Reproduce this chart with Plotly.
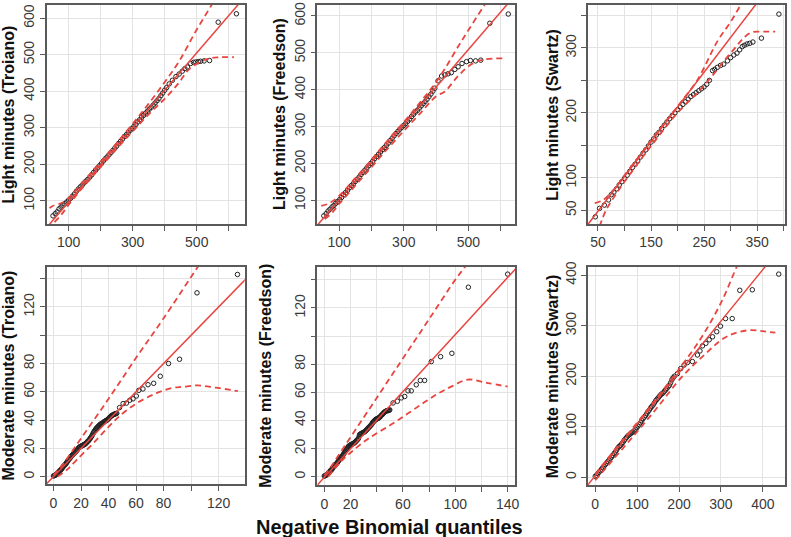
import plotly.graph_objects as go

W, H = 791, 537

# ---------------- data ----------------
# Panel 1: Light minutes (Troiano)
qx1 = [51, 58, 64, 70, 76, 82, 88, 94, 100, 106, 112, 118, 124, 130, 136, 142, 148, 154, 160, 166,
       172, 178, 184, 190, 196, 202, 208, 214, 220, 226, 232, 238, 244, 250, 256, 262, 268, 274, 280, 286,
       292, 298, 304, 310, 316, 322, 328, 334, 340, 346, 352, 358, 364, 370, 376, 382, 388, 394, 400,
       406, 414, 424, 435, 445, 455, 463, 471, 481, 490, 497, 505, 512, 523, 540, 567, 624]
sy1 = [59, 65, 70, 78, 83, 88, 92, 97, 102, 107, 113, 119, 126, 132, 138, 143, 149, 154, 159, 165,
       171, 178, 184, 190, 196, 202, 209, 215, 220, 226, 232, 238, 244, 250, 257, 263, 269, 276, 281, 287,
       293, 298, 304, 309, 316, 322, 329, 334, 340, 345, 351, 356, 362, 368, 374, 380, 388, 395, 403,
       410, 420, 430, 440, 447, 455, 462, 466, 476, 479, 480, 481, 482, 483, 484, 589, 612]
up1_x = [40, 50, 88, 150, 200, 250, 300, 350, 400, 445, 497, 549, 575]
up1_y = [80, 86, 99, 157, 207, 258, 311, 366, 425, 482, 564, 640, 680]
lo1_x = [56, 77, 97, 150, 200, 250, 300, 350, 404, 445, 476, 528, 569, 616]
lo1_y = [42, 62, 86, 143, 193, 243, 290, 337, 383, 424, 460, 487, 493, 493]
ref1 = (-5, 1.02)

# Panel 2: Light minutes (Freedson)
qx2 = [53, 60, 66, 72, 78, 84, 90, 96, 102, 108, 114, 120, 126, 132, 138, 144, 150, 156, 162, 168,
       174, 180, 186, 192, 198, 204, 210, 216, 222, 228, 234, 240, 246, 252, 258, 264, 270, 276, 282, 288,
       294, 300, 306, 312, 318, 324, 330, 336, 342, 348, 354, 360, 366, 372, 378, 384, 390, 396,
       406, 417, 427, 437, 447, 458, 468, 480, 494, 506, 522, 538, 566, 623]
sy2 = [58, 64, 71, 76, 82, 86, 92, 97, 102, 108, 115, 121, 127, 134, 140, 145, 151, 157, 163, 170,
       176, 182, 188, 194, 200, 206, 213, 219, 225, 231, 237, 243, 249, 255, 262, 268, 275, 281, 287, 293,
       298, 303, 308, 314, 320, 327, 333, 339, 344, 350, 356, 362, 368, 374, 381, 388, 396, 404,
       424, 437, 440, 443, 446, 455, 462, 471, 476, 479, 478, 480, 580, 605]
up2_x = [45, 70, 100, 150, 200, 250, 300, 350, 406, 478, 550, 580]
up2_y = [85, 92, 112, 160, 210, 262, 312, 365, 428, 531, 630, 670]
lo2_x = [56, 80, 100, 150, 200, 250, 300, 350, 400, 427, 468, 509, 550, 612]
lo2_y = [49, 68, 90, 140, 190, 240, 288, 335, 382, 395, 437, 469, 482, 485]
ref2 = (-1, 1.02)

# Panel 3: Light minutes (Swartz)
qx3 = [45, 53, 62, 70, 75, 80, 85, 90, 95, 100, 105, 110, 115, 120, 125, 130, 135, 140, 145, 150,
       155, 160, 165, 170, 175, 180, 185, 190, 195, 200, 205, 210, 215, 220, 225, 230, 235, 240, 245, 250,
       255, 260, 266, 270, 275, 281, 287, 294, 300, 306, 312, 317, 322, 326, 331, 336, 342, 358, 391]
sy3 = [40, 53, 58, 66, 74, 78, 83, 89, 94, 99, 104, 110, 116, 121, 126, 132, 138, 143, 149, 155,
       160, 166, 170, 176, 181, 186, 191, 196, 200, 205, 209, 213, 217, 221, 225, 228, 231, 234, 237, 240,
       244, 250, 265, 267, 270, 273, 275, 280, 285, 289, 292, 297, 302, 304, 306, 307, 309, 315, 352]
up3_x = [44, 60, 80, 100, 150, 200, 237, 275, 300, 319, 330]
up3_y = [61, 66, 82, 104, 157, 210, 250, 310, 340, 366, 380]
lo3_x = [53, 65, 80, 100, 150, 200, 250, 300, 337, 362, 384]
lo3_y = [25, 50, 70, 94, 149, 200, 242, 292, 323, 325, 325]
ref3 = (-5, 1.07)

# Panel 4: Moderate minutes (Troiano)
qx4 = [0, 0.5, 1, 1.5, 2, 2.5, 3, 3.5, 4, 4.5, 5, 5.5, 6, 6.5, 7, 7.5, 8, 8.5, 9, 9.5,
       10, 10.5, 11, 11.5, 12, 12.5, 13, 13.5, 14, 14.5, 15, 15.5, 16, 16.5, 17, 17.5, 18, 18.5, 19, 19.5,
       20, 20.5, 21, 21.5, 22, 22.5, 23, 23.5, 24, 24.5, 25, 25.5, 26, 26.5, 27, 27.5, 28, 28.5, 29, 29.5,
       30, 30.5, 31, 31.5, 32, 32.5, 33, 33.5, 34, 34.5, 35, 35.5, 36, 36.5, 37, 37.5, 38, 38.5, 39, 39.5,
       40, 40.5, 41, 41.5, 42, 42.5, 43, 43.5, 44, 44.5, 45, 45.5, 46,
       48, 50.6, 53, 55.4, 57.8, 60.2, 62, 65, 68.7, 72.8, 77.6, 83.6, 91.6, 104.3, 133.7]
sy4 = [0.5, 0.6, 0.8, 1.2, 1.5, 2, 2.5, 3, 3.5, 4, 4.5, 5, 5.5, 6.2, 7, 7.5, 8, 8.5, 9, 9.8,
       10.5, 11.2, 12, 12.5, 13, 13.8, 14.5, 15, 15.5, 16, 16.5, 17, 17.5, 18, 18.5, 19.2, 20, 20.5, 21, 21.2,
       21.5, 21.8, 22, 22.2, 22.5, 22.8, 23, 23.5, 24, 24.5, 25, 25.5, 26, 26.8, 27.5, 28.2, 29, 30, 31, 31.8,
       32.5, 33.2, 34, 34.5, 35, 35.5, 36, 36.5, 37, 37.2, 37.5, 37.8, 38, 38.5, 39, 39.2, 39.5, 39.8, 40, 40.5,
       41, 41.5, 42, 42.5, 43, 43.2, 43.5, 43.8, 44, 44.2, 44.5, 44.6, 44.8,
       48.8, 51.6, 52, 54, 55, 57, 61, 62, 65, 66, 71, 80, 83, 130, 143]
up4_x = [0, 5, 10, 20, 40, 60, 80, 106, 115]
up4_y = [1, 6.5, 13, 27, 55, 84, 112, 150, 163]
lo4_x = [3, 10, 16.9, 28.9, 39.8, 48.2, 60, 74.7, 86.7, 94, 104.8, 118, 134]
lo4_y = [0, 5, 11.9, 23.6, 35, 43, 51.6, 59, 62.8, 63.5, 64.5, 62.9, 60.5]
ref4 = (0, 1.0)

# Panel 5: Moderate minutes (Freedson)
qx5 = [0, 0.5, 1, 1.5, 2, 2.5, 3, 3.5, 4, 4.5, 5, 5.5, 6, 6.5, 7, 7.5, 8, 8.5, 9, 9.5,
       10, 10.5, 11, 11.5, 12, 12.5, 13, 13.5, 14, 14.5, 15, 15.5, 16, 16.5, 17, 17.5, 18, 18.5, 19, 19.5,
       20, 20.5, 21, 21.5, 22, 22.5, 23, 23.5, 24, 24.5, 25, 25.5, 26, 26.5, 27, 27.5, 28, 28.5, 29, 29.5,
       30, 30.5, 31, 31.5, 32, 32.5, 33, 33.5, 34, 34.5, 35, 35.5, 36, 36.5, 37, 37.5, 38, 38.5, 39, 39.5,
       40, 40.5, 41, 41.5, 42, 42.5, 43, 43.5, 44, 44.5, 45, 45.5, 46, 46.5, 47, 47.5, 48, 48.5, 49, 49.5, 50,
       52.5, 55.8, 58.8, 61.4, 63.9, 66.4, 70.2, 73.3, 76.6, 81.7, 88.8, 97.4, 110, 140]
sy5 = [0.5, 0.6, 0.8, 1.2, 1.5, 2, 2.5, 3, 3.5, 4, 4.5, 5, 5.5, 6.2, 7, 7.5, 8, 8.5, 9, 9.5,
       10, 10.8, 11.5, 12.2, 13, 13.5, 14, 14.5, 15, 15.8, 16.5, 17.2, 18, 18.8, 19.5, 20.2, 21, 21.5, 22, 22.2,
       22.5, 22.8, 23, 23.2, 23.5, 23.8, 24, 24.5, 25, 25.5, 26, 26.5, 27, 28.5, 30, 30.2, 30.5, 30.8, 31, 31.2,
       31.5, 31.8, 32, 32.5, 33, 33.5, 34, 34.5, 35, 35.5, 36, 36.5, 37, 37.8, 38.5, 39, 39.5, 40, 40.5, 40.8,
       41, 41.2, 41.5, 41.8, 42, 42.5, 43, 43.5, 44, 44.5, 45, 45.5, 46, 46.2, 46.5, 46.8, 47, 47, 47, 47.2, 47.5,
       52.4, 53.6, 56, 57, 61, 61, 65.3, 68.4, 68.4, 81.8, 85.3, 87.7, 134.7, 144]
up5_x = [0, 5, 10, 20, 40, 60, 80, 100, 108, 115]
up5_y = [1, 7, 14, 28, 56, 84, 112, 140, 150, 160]
lo5_x = [3, 13, 20, 33.5, 51, 64, 76.6, 86.7, 96.9, 109.6, 125, 140]
lo5_y = [0, 11, 17, 27, 37, 45, 53, 59, 64, 69, 66.5, 64]
ref5 = (-0.5, 1.015)

# Panel 6: Moderate minutes (Swartz)
qx6 = [0, 3, 6, 9, 12, 15, 18, 21, 24, 27, 30, 33, 36, 39, 42, 45, 48, 51, 54, 57, 60, 63, 66, 69,
       72, 75, 78, 81, 84, 87, 90, 93, 96, 99, 102, 105, 108, 111, 114, 117, 120, 123, 126, 129, 132,
       135, 138, 141, 144, 147, 150, 153, 156, 159, 162, 165, 168, 171, 174, 177, 180, 183, 186, 189,
       196, 204, 212, 220, 232, 244, 250, 256, 264, 272, 280, 290, 299, 311, 327, 345, 375, 438]
sy6 = [2, 4, 7, 10, 13, 16, 19, 22, 25, 28, 31, 34, 37, 40, 43, 47, 50, 54, 58, 61, 63, 66, 69, 73,
       76, 79, 82, 84, 86, 88, 90, 92, 95, 98, 101, 104, 108, 112, 116, 119, 122, 126, 130, 133, 137,
       140, 143, 147, 151, 154, 157, 160, 163, 165, 167, 170, 173, 176, 179, 182, 187, 193, 197, 200,
       205, 215, 222, 227, 229, 242, 250, 260, 265, 272, 278, 288, 299, 314, 314, 370, 371, 402]
up6_x = [0, 50, 100, 150, 200, 250, 300, 339, 360]
up6_y = [6, 58, 108, 160, 214, 272, 345, 419, 455]
lo6_x = [0, 50, 100, 150, 204, 260, 307, 340, 371, 400, 430]
lo6_y = [-6, 42, 90, 140, 196, 242, 275, 287, 291, 289, 286]
ref6 = (3, 1.02)

titles = ["Light minutes (Troiano)", "Light minutes (Freedson)", "Light minutes (Swartz)",
          "Moderate minutes (Troiano)", "Moderate minutes (Freedson)", "Moderate minutes (Swartz)"]
x_title = "Negative Binomial quantiles"

x_ticks = [[100, 200, 300, 400, 500, 600], [100, 200, 300, 400, 500, 600],
           [50, 100, 150, 200, 250, 300, 350, 400],
           [0, 20, 40, 60, 80, 100, 120], [0, 20, 40, 60, 80, 100, 120, 140],
           [0, 100, 200, 300, 400]]
x_labels = [["100", "", "300", "", "500", ""], ["100", "", "300", "", "500", ""],
            ["50", "", "150", "", "250", "", "350", ""],
            ["0", "20", "40", "60", "80", "", "120"], ["0", "20", "", "60", "", "100", "", "140"],
            ["0", "100", "200", "300", "400"]]
y_ticks = [[100, 200, 300, 400, 500, 600], [100, 200, 300, 400, 500, 600],
           [50, 100, 150, 200, 250, 300, 350],
           [0, 20, 40, 60, 80, 100, 120, 140], [0, 20, 40, 60, 80, 100, 120, 140],
           [0, 100, 200, 300, 400]]
y_labels = [["100", "200", "300", "400", "500", "600"], ["100", "200", "300", "400", "500", "600"],
            ["50", "100", "", "200", "", "300", ""],
            ["0", "20", "40", "60", "80", "", "120", ""], ["0", "20", "40", "60", "80", "", "120", ""],
            ["0", "100", "200", "300", "400"]]

# ---------------- layout geometry (pixels) ----------------
boxes = [(47, 246, 0, 221), (319, 518, 0, 221), (591, 789, 0, 221),
         (47, 246, 264, 484), (319, 518, 264, 485), (591, 789, 264, 485)]
x_ranges = [(31.6, 650), (33, 645), (31.25, 402.5), (-4.9, 139), (-5.3, 145.9), (-17.3, 453)]
y_ranges = [(36.8, 636), (36, 629.5), (29, 366), (-5.6, 148.6), (-6.3, 149.4), (-16.3, 417)]
title_x = [9, 281, 555, 9, 266, 555]

panels = [(qx1, sy1, up1_x, up1_y, lo1_x, lo1_y, ref1),
          (qx2, sy2, up2_x, up2_y, lo2_x, lo2_y, ref2),
          (qx3, sy3, up3_x, up3_y, lo3_x, lo3_y, ref3),
          (qx4, sy4, up4_x, up4_y, lo4_x, lo4_y, ref4),
          (qx5, sy5, up5_x, up5_y, lo5_x, lo5_y, ref5),
          (qx6, sy6, up6_x, up6_y, lo6_x, lo6_y, ref6)]

RED = "#E8453F"
FONT = "Liberation Sans, Arial, sans-serif"

fig = go.Figure()
layout = dict(width=W, height=H, margin=dict(l=0, r=0, t=0, b=0),
              paper_bgcolor="white", plot_bgcolor="white", showlegend=False,
              annotations=[])

for i, (qx, sy, ux, uy, lx, ly, ref) in enumerate(panels):
    n = "" if i == 0 else str(i + 1)
    xa, ya = "x" + n, "y" + n
    x0, x1, y0, y1 = boxes[i]
    axis_common = dict(showline=True, mirror=True, linecolor="#5a5a5a", linewidth=1.5,
                       showgrid=True, gridcolor="#e3e3e3", gridwidth=1, zeroline=False,
                       ticks="outside", ticklen=5, tickcolor="#5a5a5a", tickwidth=1,
                       tickfont=dict(family=FONT, size=14, color="#3a3a3a"))
    layout["xaxis" + n] = dict(axis_common, domain=[x0 / W, x1 / W], range=list(x_ranges[i]),
                               anchor=ya, tickmode="array", tickvals=x_ticks[i], ticktext=x_labels[i])
    layout["yaxis" + n] = dict(axis_common, domain=[1 - y1 / H, 1 - y0 / H], range=list(y_ranges[i]),
                               anchor=xa, tickmode="array", tickvals=y_ticks[i], ticktext=y_labels[i],
                               tickangle=-90)
    # points
    fig.add_trace(go.Scatter(x=qx, y=sy, mode="markers", xaxis=xa, yaxis=ya,
                             marker=dict(symbol="circle-open", size=4.5, color="#222222",
                                         line=dict(width=1, color="#222222"))))
    # reference line
    lx_ends = [x_ranges[i][0] - 50, x_ranges[i][1] + 50]
    fig.add_trace(go.Scatter(x=lx_ends, y=[ref[0] + ref[1] * v for v in lx_ends], mode="lines",
                             xaxis=xa, yaxis=ya, line=dict(color=RED, width=1.5)))
    # envelopes
    for ex, ey in ((ux, uy), (lx, ly)):
        fig.add_trace(go.Scatter(x=ex, y=ey, mode="lines", xaxis=xa, yaxis=ya,
                                 line=dict(color=RED, width=1.8, dash="6px,4px", shape="spline")))
    layout["annotations"].append(dict(text="<b>" + titles[i] + "</b>", xref="paper", yref="paper",
                                      x=title_x[i] / W, y=1 - ((y0 + y1) / 2) / H, textangle=-90,
                                      showarrow=False, xanchor="center", yanchor="middle",
                                      font=dict(family=FONT, size=16, color="#111111")))

layout["annotations"].append(dict(text="<b>" + x_title + "</b>", xref="paper", yref="paper",
                                  x=391.5 / W, y=1 - 527 / H, showarrow=False,
                                  xanchor="center", yanchor="middle",
                                  font=dict(family=FONT, size=20, color="#111111")))
fig.update_layout(**layout)
fig.write_html("out.html", config={"displayModeBar": False},
               post_script="document.body.style.margin='0px';")
